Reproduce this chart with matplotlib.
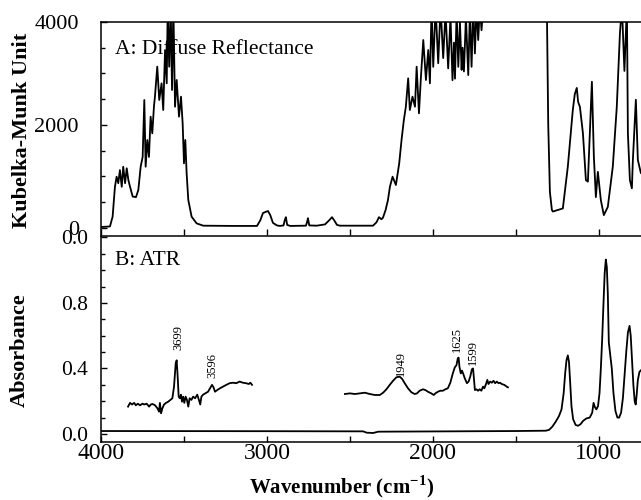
import matplotlib
matplotlib.use('Agg')
import matplotlib.pyplot as plt
from matplotlib.ticker import MultipleLocator

plt.rcParams['font.family'] = ['Liberation Serif', 'DejaVu Serif']
plt.rcParams['mathtext.fontset'] = 'custom'
plt.rcParams['mathtext.rm'] = 'Liberation Serif'
plt.rcParams['mathtext.bf'] = 'Liberation Serif:bold'

# A: diffuse reflectance (Kubelka-Munk)
dr_wn = [3996, 3946, 3930, 3916, 3906, 3896, 3886, 3875, 3866, 3855, 3845, 3835, 3825, 3809,
         3789, 3775, 3761, 3749, 3739, 3731, 3721, 3711, 3701, 3691, 3681, 3675, 3661, 3649,
         3635, 3625, 3614, 3604, 3598, 3589, 3580, 3572, 3564, 3554, 3544, 3530, 3518, 3508,
         3500, 3492, 3484, 3474, 3454, 3424, 3384, 3200, 3060, 3040, 3024, 3010, 2994, 2980,
         2964, 2940, 2922, 2900, 2893, 2886, 2878, 2860, 2765, 2758, 2753, 2745, 2700, 2650,
         2625, 2608, 2595, 2578, 2560, 2361, 2340, 2325, 2310, 2301, 2285, 2271, 2259, 2243,
         2223, 2203, 2189, 2175, 2163, 2149, 2139, 2123, 2108, 2098, 2084, 2072, 2058, 2042,
         2028, 2018, 2008, 1998, 1984, 1968, 1954, 1938, 1924, 1908, 1894, 1882, 1873, 1867,
         1857, 1847, 1837, 1827, 1821, 1813, 1801, 1787, 1777, 1767, 1757, 1747, 1737, 1727,
         1717, 1707, 1697, 1500, 1320, 1313, 1305, 1295, 1283, 1277, 1217, 1187, 1157, 1145,
         1133, 1125, 1114, 1096, 1078, 1066, 1042, 1030, 1018, 1006, 988, 970, 946, 916, 892,
         873, 861, 846, 831, 825, 813, 801, 795, 777, 765, 747, 738]
dr_ku = [20, 30, 220, 800, 996, 870, 1125, 800, 1190, 870, 1160, 930, 800, 610,
         600, 740, 1190, 1380, 2485, 1190, 1709, 1380, 2162, 1838, 2355, 2550, 3132, 2485,
         2809, 2291, 3456, 2809, 4300, 3132, 4300, 2680, 4300, 2355, 2874, 2162, 2550, 2033,
         1256, 1709, 1062, 544, 220, 90, 45, 40, 40, 150, 290, 310, 330, 250,
         100, 50, 40, 50, 150, 210, 60, 40, 45, 120, 190, 50, 45, 70,
         150, 210, 150, 60, 45, 45, 110, 210, 170, 200, 350, 540, 802, 996,
         835, 1256, 1709, 2097, 2355, 2906, 2291, 2550, 2355, 3132, 2227, 2938, 3650, 2874,
         3456, 2809, 4300, 3130, 4300, 3200, 4300, 3300, 4200, 3100, 4100, 2870, 3600, 2900,
         4200, 3130, 4000, 3070, 3500, 3040, 4100, 2970, 4200, 3130, 4300, 3390, 4300, 3650,
         4300, 3840, 4300, 4500, 4500, 4200, 2000, 700, 350, 320, 380, 1190, 2290, 2600,
         2720, 2450, 2350, 1840, 930, 900, 2840, 1380, 600, 1090, 540, 250, 410, 1190, 2350,
         3780, 4300, 3050, 4300, 1840, 930, 770, 1320, 2490, 1320, 1070, 1040]

# B: ATR absorbance
atr_wn = [4000, 3000, 2420, 2400, 2360, 2330, 1500, 1320, 1300, 1280, 1260, 1240, 1225, 1212,
          1203, 1195, 1187, 1180, 1172, 1165, 1155, 1140, 1125, 1110, 1095, 1075, 1055, 1040,
          1032, 1024, 1015, 1005, 996, 988, 980, 972, 965, 958, 952, 946, 940, 930, 922, 912,
          900, 888, 878, 866, 855, 845, 835, 825, 815, 808, 800, 792, 784, 778, 772, 765, 755,
          745, 738]
atr_abs = [0.018, 0.017, 0.016, 0.008, 0.006, 0.014, 0.018, 0.02, 0.025, 0.045, 0.075, 0.11, 0.15, 0.25,
           0.37, 0.45, 0.48, 0.44, 0.30, 0.17, 0.09, 0.055, 0.05, 0.06, 0.08, 0.095, 0.10, 0.13,
           0.19, 0.165, 0.15, 0.17, 0.25, 0.40, 0.58, 0.80, 0.98, 1.065, 1.02, 0.86, 0.56, 0.47, 0.40, 0.25,
           0.14, 0.10, 0.10, 0.13, 0.22, 0.36, 0.50, 0.62, 0.66, 0.60, 0.45, 0.30, 0.20, 0.18, 0.24, 0.33, 0.38,
           0.39, 0.40]

# magnified pieces of the ATR spectrum
zoom1_wn = [3837, 3825, 3813, 3800, 3790, 3778, 3765, 3750, 3740, 3725, 3710, 3700, 3690, 3675,
            3660, 3650, 3645, 3638, 3630, 3620, 3608, 3595, 3582, 3570, 3560, 3550, 3544, 3538,
            3532, 3525, 3518, 3512, 3505, 3498, 3490, 3482, 3474, 3466, 3455, 3445, 3433, 3420,
            3410, 3402, 3395, 3385, 3370, 3355, 3343, 3331, 3322, 3313, 3300, 3283, 3265, 3245,
            3225, 3205, 3185, 3165, 3145, 3125, 3110, 3100, 3090]
zoom1_abs = [0.167, 0.19, 0.18, 0.19, 0.175, 0.185, 0.175, 0.185, 0.18, 0.185, 0.167, 0.18, 0.183, 0.176,
             0.157, 0.136, 0.19, 0.126, 0.157, 0.18, 0.19, 0.197, 0.208, 0.218, 0.289, 0.43, 0.45, 0.35,
             0.228, 0.218, 0.24, 0.197, 0.228, 0.19, 0.228, 0.208, 0.167, 0.218, 0.208, 0.228, 0.218, 0.24,
             0.208, 0.18, 0.228, 0.24, 0.249, 0.258, 0.279, 0.30, 0.285, 0.258, 0.268, 0.279, 0.289, 0.30,
             0.31, 0.313, 0.31, 0.32, 0.313, 0.31, 0.305, 0.313, 0.30]
zoom2_wn = [2530, 2500, 2470, 2440, 2410, 2380, 2350, 2320, 2300, 2280, 2260, 2240, 2220, 2200,
            2185, 2170, 2150, 2130, 2110, 2096, 2080, 2060, 2045, 2030, 2010, 1995, 1985, 1970,
            1955, 1940, 1925, 1910, 1895, 1880, 1868, 1858, 1850, 1845, 1840, 1832, 1825, 1818,
            1808, 1795, 1785, 1775, 1765, 1758, 1752, 1747, 1738, 1728, 1718, 1708, 1698, 1690,
            1680, 1672, 1665, 1655, 1645, 1635, 1625, 1615, 1605, 1595, 1585, 1570, 1555, 1548]
zoom2_abs = [0.244, 0.248, 0.244, 0.248, 0.252, 0.244, 0.238, 0.238, 0.252, 0.273, 0.30, 0.325, 0.346, 0.35,
             0.336, 0.31, 0.279, 0.255, 0.244, 0.248, 0.264, 0.273, 0.268, 0.258, 0.248, 0.238, 0.248, 0.258,
             0.264, 0.264, 0.273, 0.279, 0.313, 0.37, 0.407, 0.42, 0.462, 0.466, 0.41, 0.37, 0.387, 0.37,
             0.34, 0.31, 0.32, 0.35, 0.395, 0.40, 0.33, 0.268, 0.273, 0.264, 0.273, 0.264, 0.289, 0.279,
             0.305, 0.33, 0.305, 0.32, 0.313, 0.325, 0.31, 0.32, 0.31, 0.313, 0.305, 0.30, 0.289, 0.285]

# peak labels: text, x, y
peak_text = ['3699', '3596', '1949', '1625', '1599']
peak_x = [3536, 3331, 2193, 1855, 1759]
peak_y = [0.59, 0.42, 0.43, 0.58, 0.50]

fig = plt.figure(figsize=(6.41, 5.0), dpi=100)
ax1 = fig.add_axes([101/641, 265/500, 541/641, 213/500])
ax2 = fig.add_axes([101/641, 58/500, 541/641, 206/500])

lw = 1.3
ax1.plot(dr_wn, dr_ku, color='black', lw=lw)
ax2.plot(atr_wn, atr_abs, color='black', lw=lw)
ax2.plot(zoom1_wn, zoom1_abs, color='black', lw=lw)
ax2.plot(zoom2_wn, zoom2_abs, color='black', lw=lw)
for t, x, y in zip(peak_text, peak_x, peak_y):
    ax2.text(x, y, t, rotation=90, ha='center', va='center', fontsize=9)

for ax in (ax1, ax2):
    ax.set_xlim(4000, 740)
    ax.xaxis.set_major_locator(MultipleLocator(1000))
    ax.xaxis.set_minor_locator(MultipleLocator(500))
    ax.tick_params(which='both', direction='in', top=False, right=False)
    ax.tick_params(axis='x', which='both', length=4, width=1, labelsize=17)
    for s in ax.spines.values():
        s.set_linewidth(1.1)
    ax.spines['right'].set_visible(False)

ax1.set_ylim(-136, 4000)
ax1.set_yticks([0, 2000, 4000])
ax1.yaxis.set_minor_locator(MultipleLocator(500))
ax1.tick_params(axis='y', which='major', length=4, width=1, pad=16, labelsize=16)
ax1.tick_params(axis='y', which='minor', length=3, width=1)
ax1.tick_params(axis='x', labelbottom=False)
ax1.spines['bottom'].set_visible(False)

ax2.set_ylim(-0.049, 1.209)
ax2.set_yticks([0, 0.4, 0.8, 1.2], ['0.0', '0.4', '0.8', '0.0'])
ax2.yaxis.set_minor_locator(MultipleLocator(0.1))
ax2.tick_params(axis='y', which='major', length=4, width=1, pad=9, labelsize=15.5)
ax2.tick_params(axis='y', which='minor', length=3, width=1)
ax2.tick_params(axis='x', pad=1)

ax1.text(0.026, 0.869, 'A: Diffuse Reflectance', transform=ax1.transAxes, fontsize=15.5, va='center')
ax2.text(0.026, 0.883, 'B: ATR', transform=ax2.transAxes, fontsize=15.5, va='center')

ax1.set_ylabel('Kubelka-Munk Unit', fontsize=16, fontweight='bold')
ax1.yaxis.set_label_coords(-0.128, 0.49)
ax2.set_ylabel('Absorbance', fontsize=16, fontweight='bold')
ax2.yaxis.set_label_coords(-0.131, 0.447)
ax2.set_xlabel(r'Wavenumber (cm$^{\mathbf{-1}}$)', fontsize=15, fontweight='bold', va='baseline')
ax2.xaxis.set_label_coords(0.445, -0.247)

fig.savefig('out.png', dpi=100)
